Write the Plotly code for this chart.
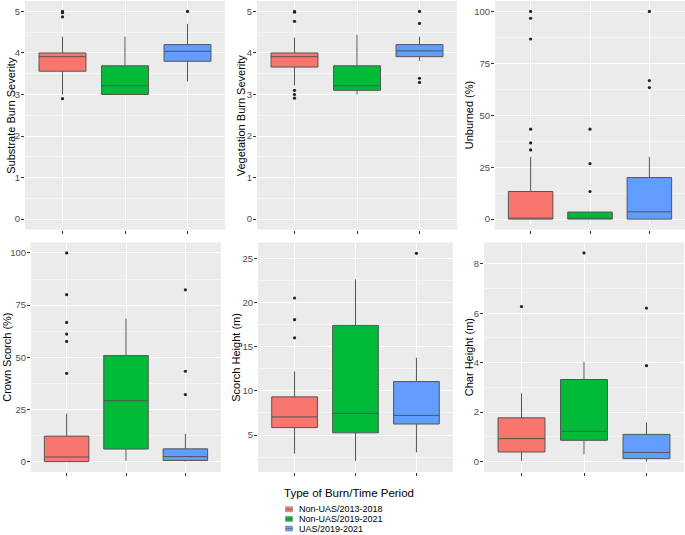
import plotly.graph_objects as go

W, H = 685, 535

groups = ["Non-UAS/2013-2018", "Non-UAS/2019-2021", "UAS/2019-2021"]
colors = ["#F8766D", "#00BA38", "#619CFF"]

# box stats per group: q1, median, q3, lower whisker, upper whisker, outliers
substrate_q1 = [3.56, 3.0, 3.8]
substrate_med = [3.91, 3.21, 4.04]
substrate_q3 = [4.0, 3.69, 4.2]
substrate_lo = [3.0, 3.0, 3.31]
substrate_hi = [4.39, 4.39, 4.7]
substrate_out = [[5.0, 4.97, 4.87, 2.9], [], [5.0]]

veg_q1 = [3.66, 3.1, 3.91]
veg_med = [3.91, 3.21, 4.05]
veg_q3 = [4.0, 3.69, 4.2]
veg_lo = [3.22, 3.0, 3.81]
veg_hi = [4.37, 4.44, 4.39]
veg_out = [[5.0, 4.98, 4.76, 3.1, 3.0, 2.91], [], [5.0, 4.71, 3.39, 3.29]]

unb_q1 = [0, 0, 0]
unb_med = [0, 0, 3.5]
unb_q3 = [13.3, 3.4, 20.0]
unb_lo = [0, 0, 0]
unb_hi = [30.0, 3.4, 30.0]
unb_out = [[100, 96.7, 86.7, 43.3, 36.7, 33.3], [43.3, 26.7, 13.3], [100, 66.7, 63.3]]

crown_q1 = [0, 6.0, 0.5]
crown_med = [2.2, 29.2, 2.4]
crown_q3 = [12.2, 50.8, 6.1]
crown_lo = [0, 0.4, 0]
crown_hi = [23.0, 68.6, 13.3]
crown_out = [[100, 80, 66.7, 61.1, 57.6, 42.3], [], [82.3, 43.3, 32.1]]

scorch_q1 = [5.84, 5.25, 6.25]
scorch_med = [7.05, 7.45, 7.22]
scorch_q3 = [9.32, 17.4, 11.05]
scorch_lo = [2.9, 2.05, 3.05]
scorch_hi = [12.2, 22.6, 13.75]
scorch_out = [[20.5, 18.05, 16.0], [], [25.55]]

char_q1 = [0.39, 0.86, 0.12]
char_med = [0.93, 1.22, 0.37]
char_q3 = [1.77, 3.32, 1.1]
char_lo = [0.03, 0.3, 0.0]
char_hi = [2.76, 4.03, 1.59]
char_out = [[6.27], [8.44], [6.21, 3.88]]

titles = ["Substrate Burn Severity", "Vegetation Burn Severity", "Unburned (%)",
          "Crown Scorch (%)", "Scorch Height (m)", "Char Height (m)"]

panels = [
    (substrate_q1, substrate_med, substrate_q3, substrate_lo, substrate_hi, substrate_out),
    (veg_q1, veg_med, veg_q3, veg_lo, veg_hi, veg_out),
    (unb_q1, unb_med, unb_q3, unb_lo, unb_hi, unb_out),
    (crown_q1, crown_med, crown_q3, crown_lo, crown_hi, crown_out),
    (scorch_q1, scorch_med, scorch_q3, scorch_lo, scorch_hi, scorch_out),
    (char_q1, char_med, char_q3, char_lo, char_hi, char_out),
]

# layout: pixel boxes (left, right, top, bottom), y ranges, tick steps
px_boxes = [(25, 225, 1, 229.5), (257, 457, 1, 229.5), (495, 685, 1, 229.5),
            (31, 221, 242.5, 472), (258, 453, 242.5, 472), (484, 684, 242.5, 472)]
yranges = [[-0.25, 5.25], [-0.25, 5.25], [-5, 105], [-5, 105], [0.82, 26.78], [-0.42, 8.86]]
ydticks = [1, 1, 25, 25, 5, 2]
ytick0 = [0, 0, 0, 0, 5, 0]
title_x = [11.5, 241, 469, 7.5, 236.5, 469]

fig = go.Figure()
layout = {}
for i, (q1, med, q3, lo, hi, outs) in enumerate(panels):
    sfx = "" if i == 0 else str(i + 1)
    for g in range(3):
        fig.add_trace(go.Box(
            x=[g + 1], q1=[q1[g]], median=[med[g]], q3=[q3[g]],
            lowerfence=[lo[g]], upperfence=[hi[g]],
            width=0.75, whiskerwidth=0, fillcolor=colors[g],
            line=dict(color="#555555", width=1), boxpoints=False,
            name=groups[g], showlegend=False, hoverinfo="skip",
            xaxis="x" + sfx, yaxis="y" + sfx))
        if outs[g]:
            fig.add_trace(go.Scatter(
                x=[g + 1] * len(outs[g]), y=outs[g], mode="markers",
                marker=dict(color="#222222", size=3.2), showlegend=False,
                hoverinfo="skip", xaxis="x" + sfx, yaxis="y" + sfx))
    l, r, t, b = px_boxes[i]
    layout["xaxis" + sfx] = dict(
        domain=[l / W, r / W], anchor="y" + sfx, range=[0.4, 3.6], automargin=False,
        tickvals=[1, 2, 3], showticklabels=False, ticks="outside", ticklen=3,
        tickcolor="#333333", showgrid=True, gridcolor="white", gridwidth=1,
        zeroline=False, showline=False)
    layout["yaxis" + sfx] = dict(
        domain=[(H - b) / H, (H - t) / H], anchor="x" + sfx, range=yranges[i],
        automargin=False, ticklabelstandoff=-1,
        tick0=ytick0[i], dtick=ydticks[i], ticks="outside", ticklen=3,
        tickcolor="#333333", tickfont=dict(size=9.5, color="#4D4D4D"),
        showgrid=True, gridcolor="white", gridwidth=1, zeroline=False, showline=False,
        minor=dict(tick0=ytick0[i], dtick=ydticks[i] / 2, showgrid=True,
                   gridcolor="#F5F5F5", gridwidth=0.6, ticks=""))
    fig.add_annotation(
        text=titles[i], textangle=-90, x=title_x[i] / W, y=(H - (t + b) / 2) / H,
        xref="paper", yref="paper", xanchor="center", yanchor="middle",
        showarrow=False, font=dict(size=11, color="black"))

# legend drawn by hand (ggplot-style compact keys)
fig.add_annotation(text="Type of Burn/Time Period", x=281.5 / W, y=(H - 493) / H,
                   xref="paper", yref="paper", xanchor="left", yanchor="middle",
                   showarrow=False, font=dict(size=11.5, color="black"))
for g in range(3):
    yc = 509.3 + 9.6 * g
    fig.add_shape(type="rect", xref="paper", yref="paper",
                  x0=285.5 / W, x1=292.5 / W, y0=(H - yc - 2.5) / H, y1=(H - yc + 2.5) / H,
                  fillcolor=colors[g], line=dict(color="#8a8a8a", width=0.6))
    fig.add_shape(type="line", xref="paper", yref="paper",
                  x0=285.5 / W, x1=292.5 / W, y0=(H - yc) / H, y1=(H - yc) / H,
                  line=dict(color="#555555", width=0.6))
    fig.add_annotation(text=groups[g], x=296.5 / W, y=(H - yc) / H,
                       xref="paper", yref="paper", xanchor="left", yanchor="middle",
                       showarrow=False, font=dict(size=9, color="black"))

fig.update_layout(
    **layout,
    width=W, height=H,
    margin=dict(l=0, r=0, t=0, b=0),
    paper_bgcolor="white", plot_bgcolor="#EBEBEB",
    font=dict(family="Liberation Sans, Arial, sans-serif"),
    showlegend=False,
)

# drop the page's default body margin so the figure sits at the window's corner
fig.write_html("out.html", config={"displayModeBar": False},
               post_script="document.body.style.margin='0';")
